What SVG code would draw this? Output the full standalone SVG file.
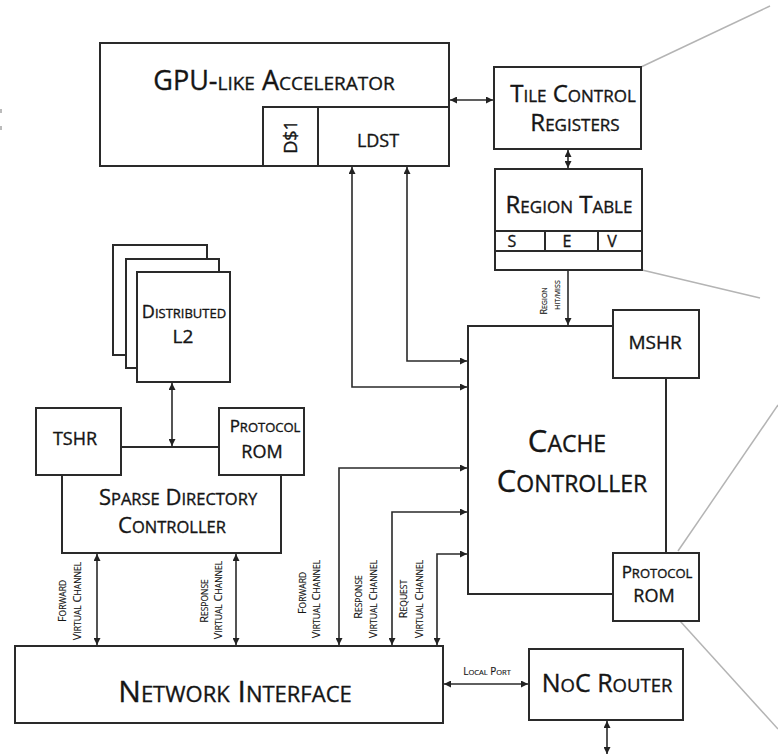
<svg xmlns="http://www.w3.org/2000/svg" width="778" height="755" viewBox="0 0 778 755">
  <defs>
    <marker id="ah" viewBox="0 0 10 10" refX="10" refY="5" markerWidth="8" markerHeight="7" markerUnits="userSpaceOnUse" orient="auto-start-reverse">
      <path d="M0,0 L10,5 L0,10 z" fill="#222"/>
    </marker>
    <style>
      .box { fill: #fff; stroke: #2a2a2a; stroke-width: 2; }
      .ln { fill: none; stroke: #2a2a2a; stroke-width: 2; }
      .wire { fill: none; stroke: #2a2a2a; stroke-width: 1.6; }
      .bi { marker-start: url(#ah); marker-end: url(#ah); }
      .one { marker-end: url(#ah); }
      .ghost { stroke: #b4b4b4; stroke-width: 1.5; fill: none; }
      text { font-family: "Open Sans", "Noto Sans", "Liberation Sans", sans-serif; fill: #151515; text-anchor: middle; stroke: #151515; stroke-width: 0.35; }
      .sm { stroke-width: 0.15; }
    </style>
  </defs>

  <rect x="0" y="0" width="778" height="755" fill="#fff"/>

  <!-- callout lines leading off to the right -->
  <g id="callouts">
    <line class="ghost" x1="641" y1="67" x2="770" y2="6"/>
    <line class="ghost" x1="642" y1="270" x2="760" y2="298"/>
    <line class="ghost" x1="678" y1="551" x2="778" y2="405"/>
    <line class="ghost" x1="680" y1="621" x2="778" y2="729"/>
    <rect x="0" y="109" width="2" height="4" fill="#bbb"/>
    <rect x="0" y="126" width="2" height="4" fill="#bbb"/>
  </g>

  <!-- connectors -->
  <g id="connectors">
    <line class="wire bi" x1="450" y1="100" x2="493" y2="100"/>
    <line class="wire bi" x1="568" y1="150" x2="568" y2="168"/>
    <polyline class="wire bi" points="407,167 407,361 467,361"/>
    <polyline class="wire bi" points="352,167 352,387 467,387"/>
    <polyline class="wire bi" points="339,645 339,468 467,468"/>
    <polyline class="wire bi" points="392,645 392,512 467,512"/>
    <polyline class="wire bi" points="437,645 437,554 467,554"/>
    <line class="wire one" x1="568" y1="271" x2="568" y2="325"/>
    <line class="wire bi" x1="172" y1="383" x2="172" y2="446"/>
    <line class="wire bi" x1="97" y1="554" x2="97" y2="645"/>
    <line class="wire bi" x1="236" y1="554" x2="236" y2="645"/>
    <line class="wire bi" x1="444" y1="684" x2="528" y2="684"/>
    <line class="wire bi" x1="607" y1="721" x2="607" y2="754"/>
  </g>

  <!-- channel labels -->
  <g id="channel-labels">
    <text class="sm" transform="translate(66,601) rotate(-90)" font-size="11">F<tspan font-size="8.5">ORWARD</tspan></text>
    <text class="sm" transform="translate(81,601) rotate(-90)" font-size="11">V<tspan font-size="8.5">IRTUAL</tspan> C<tspan font-size="8.5">HANNEL</tspan></text>
    <text class="sm" transform="translate(208,601) rotate(-90)" font-size="11">R<tspan font-size="8.5">ESPONSE</tspan></text>
    <text class="sm" transform="translate(222,600) rotate(-90)" font-size="11">V<tspan font-size="8.5">IRTUAL</tspan> C<tspan font-size="8.5">HANNEL</tspan></text>
    <text class="sm" transform="translate(306,593) rotate(-90)" font-size="11">F<tspan font-size="8.5">ORWARD</tspan></text>
    <text class="sm" transform="translate(320,599) rotate(-90)" font-size="11">V<tspan font-size="8.5">IRTUAL</tspan> C<tspan font-size="8.5">HANNEL</tspan></text>
    <text class="sm" transform="translate(362,597) rotate(-90)" font-size="11">R<tspan font-size="8.5">ESPONSE</tspan></text>
    <text class="sm" transform="translate(377,599) rotate(-90)" font-size="11">V<tspan font-size="8.5">IRTUAL</tspan> C<tspan font-size="8.5">HANNEL</tspan></text>
    <text class="sm" transform="translate(407,599) rotate(-90)" font-size="11">R<tspan font-size="8.5">EQUEST</tspan></text>
    <text class="sm" transform="translate(423,599) rotate(-90)" font-size="11">V<tspan font-size="8.5">IRTUAL</tspan> C<tspan font-size="8.5">HANNEL</tspan></text>
    <text class="sm" transform="translate(547,301) rotate(-90)" font-size="9">R<tspan font-size="7">EGION</tspan></text>
    <text class="sm" transform="translate(560,295) rotate(-90)" font-size="7">HIT/MISS</text>
    <text class="sm" x="487" y="675" font-size="10">L<tspan font-size="7.5">OCAL</tspan> P<tspan font-size="7.5">ORT</tspan></text>
  </g>

  <!-- accelerator -->
  <g id="gpu">
    <rect class="box" x="100" y="43" width="349" height="123"/>
    <rect class="box" x="263" y="107" width="55" height="59"/>
    <rect class="box" x="318" y="107" width="131" height="59"/>
    <text x="274" y="90" font-size="27">GPU-<tspan font-size="19">LIKE</tspan> A<tspan font-size="19">CCELERATOR</tspan></text>
    <text transform="translate(297,137) rotate(-90)" font-size="18">D$1</text>
    <text x="378" y="147" font-size="18">LDST</text>
  </g>

  <g id="tile-control">
    <rect class="box" x="494" y="67" width="147" height="82"/>
    <text x="573" y="102" font-size="24">T<tspan font-size="17">ILE</tspan> C<tspan font-size="17">ONTROL</tspan></text>
    <text x="575" y="131" font-size="24">R<tspan font-size="17">EGISTERS</tspan></text>
  </g>

  <g id="region-table">
    <rect class="box" x="495" y="169" width="147" height="101"/>
    <line class="ln" x1="495" y1="231" x2="642" y2="231"/>
    <line class="ln" x1="495" y1="251" x2="642" y2="251"/>
    <line class="ln" x1="545" y1="231" x2="545" y2="251"/>
    <line class="ln" x1="598" y1="231" x2="598" y2="251"/>
    <text x="569" y="213" font-size="24">R<tspan font-size="17">EGION</tspan> T<tspan font-size="17">ABLE</tspan></text>
    <text x="512" y="247" font-size="16">S</text>
    <text x="567" y="247" font-size="16">E</text>
    <text x="612" y="247" font-size="16">V</text>
  </g>

  <g id="distributed-l2">
    <rect class="box" x="113" y="245" width="94" height="110"/>
    <rect class="box" x="126" y="259" width="93" height="109"/>
    <rect class="box" x="137" y="272" width="93" height="110"/>
    <text x="184" y="318" font-size="18">D<tspan font-size="13">ISTRIBUTED</tspan></text>
    <text x="183" y="343" font-size="19">L2</text>
  </g>

  <g id="sparse-directory">
    <rect class="box" x="62" y="447" width="219" height="106"/>
    <text x="178" y="505" font-size="22">S<tspan font-size="16.5">PARSE</tspan> D<tspan font-size="16.5">IRECTORY</tspan></text>
    <text x="172" y="533" font-size="22">C<tspan font-size="16.5">ONTROLLER</tspan></text>
  </g>

  <g id="tshr">
    <rect class="box" x="36" y="408" width="85" height="67"/>
    <text x="75" y="445" font-size="18">TSHR</text>
  </g>

  <g id="dir-protocol-rom">
    <rect class="box" x="219" y="408" width="85" height="67"/>
    <text x="265" y="432" font-size="17">P<tspan font-size="13">ROTOCOL</tspan></text>
    <text x="262" y="458" font-size="18">ROM</text>
  </g>

  <g id="cache-controller">
    <rect class="box" x="468" y="326" width="198" height="268"/>
    <text x="567" y="452" font-size="31">C<tspan font-size="23">ACHE</tspan></text>
    <text x="572" y="492" font-size="31">C<tspan font-size="23">ONTROLLER</tspan></text>
  </g>

  <g id="mshr">
    <rect class="box" x="613" y="310" width="86" height="68"/>
    <text x="655" y="349" font-size="19">MSHR</text>
  </g>

  <g id="cache-protocol-rom">
    <rect class="box" x="613" y="553" width="86" height="68"/>
    <text x="657" y="578" font-size="17">P<tspan font-size="13">ROTOCOL</tspan></text>
    <text x="654" y="602" font-size="18">ROM</text>
  </g>

  <g id="network-interface">
    <rect class="box" x="15" y="646" width="428" height="77"/>
    <text x="235" y="702" font-size="30">N<tspan font-size="22">ETWORK</tspan> I<tspan font-size="22">NTERFACE</tspan></text>
  </g>

  <g id="noc-router">
    <rect class="box" x="529" y="649" width="154" height="71"/>
    <text x="607" y="692" font-size="25">N<tspan font-size="18.5">O</tspan>C R<tspan font-size="18.5">OUTER</tspan></text>
  </g>
</svg>
